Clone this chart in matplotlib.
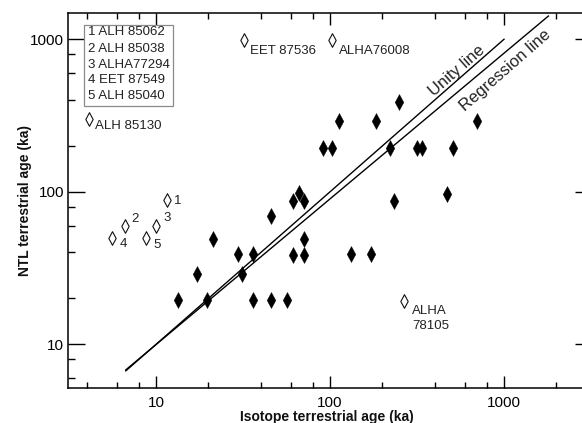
import matplotlib
matplotlib.use('Agg')
import matplotlib.pyplot as plt
from matplotlib.path import Path
from matplotlib.patches import Rectangle
from matplotlib.ticker import LogLocator, FixedLocator, NullLocator, FuncFormatter, NullFormatter

plt.rcParams['font.family'] = ['Liberation Sans', 'DejaVu Sans']

# ---- data (ka) ----
iso_age = [13.3, 17.3, 19.7, 21.3, 29.7, 31.3, 36.0, 36.0, 45.8, 45.8, 56.4,
           61.3, 66.0, 71.2, 71.2, 61.3, 71.2, 91.5, 103, 113, 132, 172, 183,
           222, 234, 249, 316, 337, 509, 469, 697]
ntl_age = [19.5, 29, 19.5, 49, 39, 29, 39, 19.5, 69, 19.5, 19.4,
           87, 98, 87, 49, 38.5, 38.5, 195, 195, 290, 39, 39, 290,
           194, 87, 385, 194, 194, 194, 97, 290]

outlier_names = ['ALH 85130', 'EET 87536', 'ALHA76008', 'ALHA\n78105']
outlier_x = [4.1, 32.2, 102, 265]
outlier_y = [300, 990, 990, 19.2]

num_labels = ['1', '2', '3', '4', '5']
num_names = ['ALH 85062', 'ALH 85038', 'ALHA77294', 'EET 87549', 'ALH 85040']
num_x = [11.6, 6.6, 10.0, 5.6, 8.8]
num_y = [89, 60, 60, 50, 50]

unity_x = [6.7, 1000]
unity_y = [6.7, 1000]
regr_x = [6.7, 1800]
regr_y = [6.8, 1420]

x_ticks = [10, 100, 1000]
y_ticks = [10, 100, 1000]

# ---- figure ----
fig = plt.figure(figsize=(5.82, 4.23), dpi=100)
ax = fig.add_axes([68.3/582, (423-388.3)/423, 516.7/582, 375.6/423])
ax.set_xscale('log')
ax.set_yscale('log')
ax.set_xlim(3.13, 2921)
ax.set_ylim(5.15, 1493)

dia = Path([(0, 1), (0.54, 0), (0, -1), (-0.54, 0), (0, 1)],
           [Path.MOVETO, Path.LINETO, Path.LINETO, Path.LINETO, Path.CLOSEPOLY])
dia_open = Path([(0, 1), (0.54, 0), (0, -1), (-0.54, 0), (0, 1)],
                [Path.MOVETO, Path.LINETO, Path.LINETO, Path.LINETO, Path.CLOSEPOLY])

ax.plot(unity_x, unity_y, color='black', lw=1.0, zorder=2)
ax.plot(regr_x, regr_y, color='black', lw=1.0, zorder=2)

ax.plot(iso_age, ntl_age, linestyle='none', marker=dia, markersize=11.5,
        color='black', mec='black', mew=0.3, zorder=3)
ax.plot(outlier_x, outlier_y, linestyle='none', marker=dia_open, markersize=9.8,
        mfc='white', mec='#111111', mew=0.8, zorder=3)
ax.plot(num_x, num_y, linestyle='none', marker=dia_open, markersize=9.8,
        mfc='white', mec='#111111', mew=0.8, zorder=3)

tcol = '#222222'
lab_off = [(4.3, -5.3), (4.1, -7.9), (5.5, -7.9)]
for name, x, y, off in zip(outlier_names[:3], outlier_x[:3], outlier_y[:3], lab_off):
    ax.annotate(name, (x, y), xytext=off, textcoords='offset points',
                ha='left', va='center', fontsize=9.5, color=tcol)
l1, l2 = outlier_names[3].split('\n')
ax.annotate(l1, (outlier_x[3], outlier_y[3]), xytext=(6, -7.2), textcoords='offset points',
            ha='left', va='center', fontsize=9.5, color=tcol)
ax.annotate(l2, (outlier_x[3], outlier_y[3]), xytext=(6, -18), textcoords='offset points',
            ha='left', va='center', fontsize=9.5, color=tcol)

num_off = [(7.2, -1.2), (7.7, 4.8), (7.7, 5.3), (7.9, -4.5), (7.7, -5.3)]
for lab, x, y, off in zip(num_labels, num_x, num_y, num_off):
    ax.annotate(lab, (x, y), xytext=off, textcoords='offset points',
                ha='center', va='center', fontsize=9.5, color=tcol)

# line labels
ax.text(535, 618, 'Unity line', rotation=41.2, rotation_mode='anchor',
        ha='center', va='center', fontsize=12, color=tcol)
ax.text(1014, 627, 'Regression line', rotation=41.2, rotation_mode='anchor',
        ha='center', va='center', fontsize=12, color=tcol)

# key box
def fx(px):
    return (px - 68.3) / 516.7

def fy(py):
    return (388.3 - py) / 375.6

ax.add_patch(Rectangle((fx(84), fy(106)), fx(172.7) - fx(84), fy(25) - fy(106),
                       transform=ax.transAxes, fc='white', ec='#8a8a8a', lw=0.9, zorder=4))
key_y = [33.3, 50, 65.7, 81, 97.3]
for lab, name, py in zip(num_labels, num_names, key_y):
    ax.text(fx(88.3), fy(py - 1), f'{lab} {name}', transform=ax.transAxes,
            ha='left', va='center', fontsize=9.5, color=tcol, zorder=5)

# ticks
for axis in (ax.xaxis, ax.yaxis):
    axis.set_major_locator(FixedLocator(x_ticks if axis is ax.xaxis else y_ticks))
    axis.set_minor_locator(LogLocator(base=10, subs=[2, 4, 6, 8], numticks=20))
    axis.set_major_formatter(FuncFormatter(lambda v, p: f'{v:g}'))
    axis.set_minor_formatter(NullFormatter())

ax.tick_params(axis='x', which='major', direction='in', length=8.5, width=1.0,
               top=True, bottom=True, pad=5.3, labelsize=11)
ax.tick_params(axis='x', which='minor', direction='in', length=4.5, width=1.0,
               top=True, bottom=True)
ax.tick_params(axis='y', which='major', direction='in', length=12, width=1.0,
               left=True, right=False, pad=2.9, labelsize=11)
ax.tick_params(axis='y', which='minor', direction='in', length=5, width=1.0,
               left=True, right=False)

ax2 = ax.twinx()
ax2.set_yscale('log')
ax2.set_ylim(ax.get_ylim())
ax2.yaxis.set_major_locator(FixedLocator(y_ticks))
ax2.yaxis.set_minor_locator(NullLocator())
ax2.tick_params(axis='y', which='major', direction='in', length=7, width=1.0,
                labelright=False)
for s in ax2.spines.values():
    s.set_visible(False)

for s in ax.spines.values():
    s.set_linewidth(1.1)

ax.set_xlabel('Isotope terrestrial age (ka)', fontsize=10, fontweight='bold', color='#111111')
ax.set_ylabel('NTL terrestrial age (ka)', fontsize=10, fontweight='bold', color='#111111')
ax.xaxis.set_label_coords(0.5, -0.059)
ax.yaxis.set_label_coords(-0.070, 0.5)

fig.savefig('out.png', dpi=100)
